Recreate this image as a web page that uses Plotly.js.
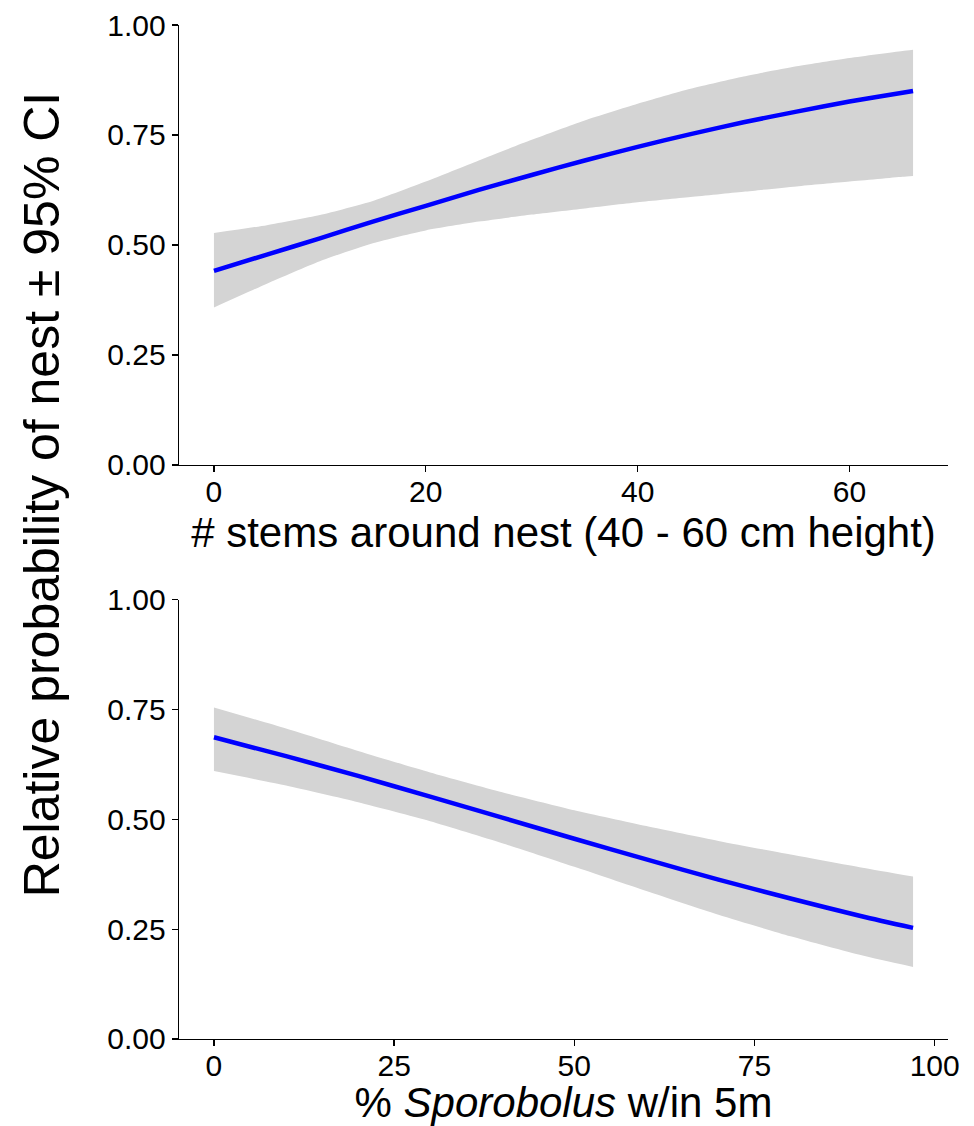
<!DOCTYPE html>
<html>
<head>
<meta charset="utf-8">
<script src="https://cdn.plot.ly/plotly-3.0.1.min.js"></script>
<style>html,body{margin:0;padding:0;background:#fff;}</style>
</head>
<body>
<div id="chart" style="width:974px;height:1126px;"></div>
<script>
// Panel 1: # stems around nest (40 - 60 cm height)
const stemsX     = [0, 5, 10, 15, 20, 25, 30, 35, 40, 45, 50, 55, 60, 65, 66];
const stemsFit   = [0.441, 0.478, 0.515, 0.553, 0.589, 0.625, 0.659, 0.692, 0.723, 0.752, 0.779, 0.803, 0.826, 0.846, 0.850];
const stemsUpper = [0.527, 0.545, 0.568, 0.600, 0.644, 0.692, 0.739, 0.783, 0.821, 0.855, 0.883, 0.906, 0.925, 0.941, 0.944];
const stemsLower = [0.358, 0.412, 0.463, 0.504, 0.533, 0.553, 0.569, 0.583, 0.597, 0.609, 0.621, 0.633, 0.644, 0.655, 0.657];

// Panel 2: % Sporobolus w/in 5m
const sporX     = [0, 10, 20, 30, 40, 50, 60, 70, 80, 90, 97];
const sporFit   = [0.687, 0.644, 0.599, 0.552, 0.504, 0.456, 0.409, 0.363, 0.320, 0.279, 0.253];
const sporUpper = [0.755, 0.707, 0.656, 0.607, 0.562, 0.521, 0.485, 0.451, 0.420, 0.390, 0.370];
const sporLower = [0.610, 0.577, 0.539, 0.496, 0.446, 0.392, 0.337, 0.283, 0.234, 0.190, 0.164];

const yTickVals = [0, 0.25, 0.5, 0.75, 1];
const yTickText = ["0.00", "0.25", "0.50", "0.75", "1.00"];
const stemsTicks = [0, 20, 40, 60];
const sporTicks = [0, 25, 50, 75, 100];

const yTitle = "Relative probability of nest \u00B1 95% CI";
const x1Title = "# stems around nest (40 - 60 cm height)";
const x2Title = "% <i>Sporobolus</i> w/in 5m";

const FONT = "Liberation Sans, Arial, sans-serif";
const bandColor = "#d4d4d4";
const lineColor = "#0000ff";

function bandLow(x, lo, xa, ya) {
  return {
    x: x, y: lo, xaxis: xa, yaxis: ya,
    type: "scatter", mode: "lines",
    line: {width: 0, color: bandColor, shape: "spline", smoothing: 0.6},
    hoverinfo: "skip", showlegend: false
  };
}
function bandHigh(x, hi, xa, ya) {
  return {
    x: x, y: hi, xaxis: xa, yaxis: ya,
    type: "scatter", mode: "lines",
    fill: "tonexty", fillcolor: bandColor,
    line: {width: 0, color: bandColor, shape: "spline", smoothing: 0.6},
    hoverinfo: "skip", showlegend: false
  };
}
function fit(x, y, xa, ya) {
  return {
    x: x, y: y, xaxis: xa, yaxis: ya,
    type: "scatter", mode: "lines",
    line: {color: lineColor, width: 4.5, shape: "spline", smoothing: 0.6},
    showlegend: false
  };
}

const traces = [
  bandLow(stemsX, stemsLower, "x", "y"),
  bandHigh(stemsX, stemsUpper, "x", "y"),
  fit(stemsX, stemsFit, "x", "y"),
  bandLow(sporX, sporLower, "x2", "y2"),
  bandHigh(sporX, sporUpper, "x2", "y2"),
  fit(sporX, sporFit, "x2", "y2")
];

const axCommon = {
  showline: true, linecolor: "#000", linewidth: 1.3,
  ticks: "outside", ticklen: 6, tickwidth: 1.3, tickcolor: "#000",
  showgrid: false, zeroline: false,
  tickfont: {family: FONT, size: 30, color: "#000"},
  fixedrange: true
};

const layout = {
  width: 974, height: 1126,
  paper_bgcolor: "#fff", plot_bgcolor: "#fff",
  margin: {l: 179, r: 26, t: 25, b: 87},
  font: {family: FONT, color: "#000"},
  showlegend: false,
  xaxis: Object.assign({}, axCommon, {
    domain: [0, 1], anchor: "y",
    range: [-3.3, 69.3], tickmode: "array", tickvals: stemsTicks,
    ticktext: stemsTicks.map(String), ticklabelstandoff: -6,
    title: {text: x1Title, font: {family: FONT, size: 42, color: "#000"}, standoff: 10}
  }),
  yaxis: Object.assign({}, axCommon, {
    domain: [0.5662, 1], anchor: "x",
    range: [0, 1], tickmode: "array", tickvals: yTickVals, ticktext: yTickText
  }),
  xaxis2: Object.assign({}, axCommon, {
    domain: [0, 1], anchor: "y2",
    range: [-4.85, 101.85], tickmode: "array", tickvals: sporTicks,
    ticktext: sporTicks.map(String), ticklabelstandoff: -6,
    title: {text: x2Title, font: {family: FONT, size: 42, color: "#000"}, standoff: 10}
  }),
  yaxis2: Object.assign({}, axCommon, {
    domain: [0, 0.4331], anchor: "x2",
    range: [0, 1], tickmode: "array", tickvals: yTickVals, ticktext: yTickText
  }),
  annotations: [{
    text: yTitle, xref: "paper", yref: "paper",
    x: -0.177, y: 0.537, xanchor: "center", yanchor: "middle",
    textangle: -90, showarrow: false,
    font: {family: FONT, size: 50, color: "#000"}
  }]
};

Plotly.newPlot("chart", traces, layout, {displayModeBar: false, staticPlot: true});
</script>
</body>
</html>
